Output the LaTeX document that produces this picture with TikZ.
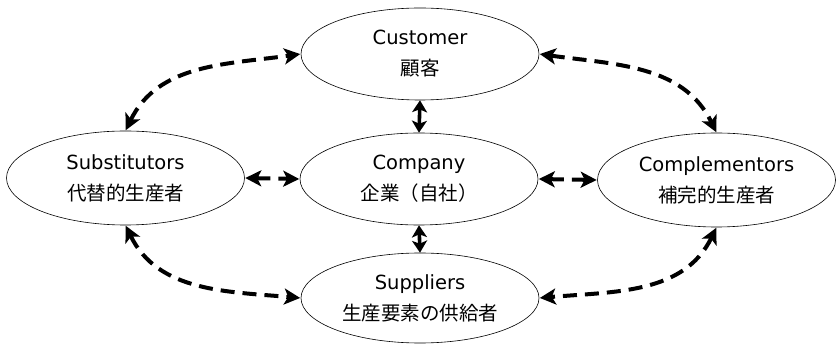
\documentclass[tikz,border=0pt]{standalone}
\usepackage{fontspec}
\setmainfont{DejaVu Sans}
\newfontfamily\jp{Noto Sans CJK JP}
\usetikzlibrary{shapes.geometric,arrows.meta}
\tikzset{
  ent/.style={ellipse,draw,line width=0.6pt,minimum width=238pt,minimum height=92pt,inner sep=0pt,align=center,font=\fontsize{19.5}{31}\selectfont},
  link/.style={line width=4pt,dash pattern=on 14pt off 8pt,{Stealth[length=16pt,width=16pt,inset=4pt]}-{Stealth[length=16pt,width=16pt,inset=4pt]},shorten <=0.5pt,shorten >=0.5pt},
  solidlink/.style={line width=3.6pt,{Stealth[length=12pt,width=15pt,inset=3pt]}-{Stealth[length=12pt,width=15pt,inset=3pt]}}
}
\begin{document}
\begin{tikzpicture}[x=1pt,y=1pt]
\useasboundingbox (0,0) rectangle (837,345);
\node[ent] (cust) at (420,291) {Customer\\{\jp 顧客}};
\node[ent] (comp) at (419,166) {Company\\{\jp 企業（自社）}};
\node[ent,minimum height=94pt] (subs) at (125.5,167) {Substitutors\\{\jp 代替的生産者}};
\node[ent,minimum height=94pt] (cmpl) at (716.5,165) {Complementors\\{\jp 補完的生産者}};
\node[ent,minimum height=90pt] (supp) at (420,47) {Suppliers\\{\jp 生産要素の供給者}};
\draw[solidlink] (cust.south) -- (comp.north);
\draw[solidlink] (comp.south) -- (supp.north);
\draw[link] (subs.east) -- (comp.west);
\draw[link] (comp.east) -- (cmpl.west);
\draw[link] (subs.north) to[out=64,in=188] (cust.west);
\draw[link] (cust.east) to[out=-8,in=116] (cmpl.north);
\draw[link] (subs.south) to[out=-64,in=175] (supp.west);
\draw[link] (cmpl.south) to[out=-116,in=5] (supp.east);
\end{tikzpicture}
\end{document}
